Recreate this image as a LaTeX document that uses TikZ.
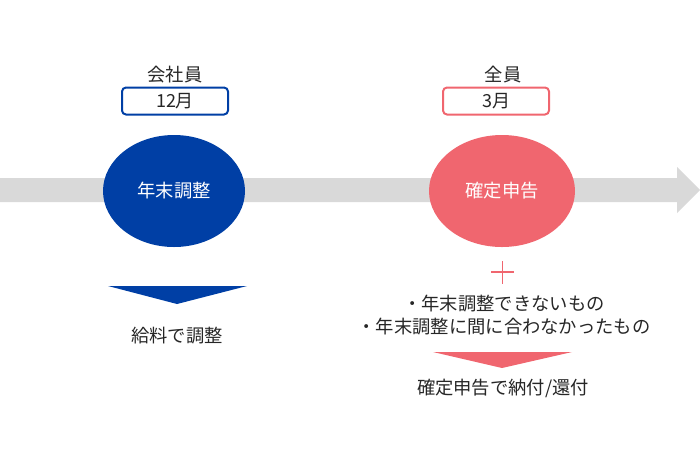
\documentclass[tikz,border=0pt]{standalone}
\usepackage{fontspec}
\setmainfont{Noto Sans CJK JP}
\usetikzlibrary{shapes.geometric}
\definecolor{cblue}{HTML}{003FA5}
\definecolor{cpink}{HTML}{F0666F}
\definecolor{cgray}{HTML}{D9D9D9}
\definecolor{ctext}{HTML}{262626}
\tikzset{
  lbl/.style={font=\fontsize{18.3}{20}\selectfont, text=ctext, inner sep=0pt},
  bubble/.style={ellipse, minimum width=142pt, minimum height=112pt, inner sep=0pt, text=white, font=\fontsize{18.3}{20}\selectfont},
  monthbox/.style={draw, line width=2pt, rounded corners=4pt, minimum width=106pt, minimum height=27pt, inner sep=0pt, text=ctext, font=\fontsize{18}{20}\selectfont},
}
\begin{document}
\begin{tikzpicture}[x=1pt,y=-1pt]
\useasboundingbox (0,0) rectangle (700,467);
% timeline arrow
\fill[cgray] (0,178) -- (677,178) -- (677,167) -- (700,190) -- (677,213) -- (677,202) -- (0,202) -- cycle;
% left column
\node[lbl] (kaisha) at (175,75) {会社員};
\node[monthbox, draw=cblue] (dec) at (175,101) {12月};
\node[bubble, fill=cblue] (nenmatsu) at (174,191) {年末調整};
\fill[cblue] (108,286) -- (247,286) -- (177,304) -- cycle;
\node[lbl] (kyuryo) at (177,336) {給料で調整};
% right column
\node[lbl] (zenin) at (503,75) {全員};
\node[monthbox, draw=cpink] (mar) at (496,101) {3月};
\node[bubble, fill=cpink, minimum width=146pt] (kakutei) at (502,191) {確定申告};
\draw[cpink, line width=1.3pt] (491,272) -- (514,272) (502.5,261) -- (502.5,284);
\node[lbl, align=center] (items) at (504,315) {・年末調整できないもの\\[3pt]・年末調整に間に合わなかったもの};
\fill[cpink] (433,352) -- (572,352) -- (502,368) -- cycle;
\node[lbl] (nofu) at (503,388) {確定申告で納付/還付};
\end{tikzpicture}
\end{document}
